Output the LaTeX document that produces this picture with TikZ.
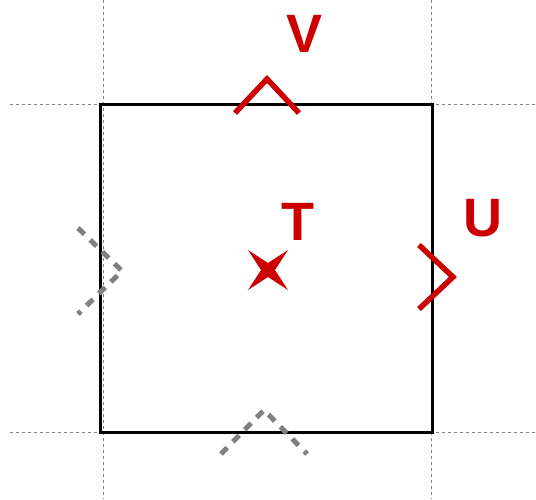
\documentclass[tikz,border=0pt]{standalone}
\usepackage{fontspec}
\setmainfont{Liberation Sans}
\usepackage{xcolor}
\usepackage{tikz}
\definecolor{markRed}{HTML}{CC0000}
\definecolor{guideGray}{HTML}{808080}

\begin{document}
\begin{tikzpicture}[x=1pt,y=-1pt,
  guide/.style={guideGray,line width=1pt,dash pattern=on 3pt off 3pt},
  chev/.style={markRed,line width=5.5pt,miter limit=4},
  ghost/.style={guideGray,line width=5pt,dash pattern=on 9pt off 8pt},
  lab/.style={markRed,font=\fontsize{54}{54}\selectfont\bfseries,inner sep=0pt}]
\useasboundingbox (0,0) rectangle (536,499);
% guide lines
\draw[guide] (10,104) -- (536,104);
\draw[guide] (10,432) -- (536,432);
\draw[guide] (103,0) -- (103,499);
\draw[guide] (431,0) -- (431,499);
% cell
\draw[line width=3pt] (100,104) rectangle (432,432);
% marker V
\coordinate (Vtip) at (267,79);
\draw[chev] (235,113) -- (Vtip) -- (299,113);
\node[lab] (V) at (305,34) {V};
% marker U
\coordinate (Utip) at (453,277);
\draw[chev] (419,245) -- (Utip) -- (419,309);
\node[lab] (U) at (483,218) {U};
% marker T
\coordinate (Tc) at (268,270);
\fill[markRed] (Tc) ++(-20,-20) -- ++(20,13) -- ++(20,-13) -- ++(-13,20)
  -- ++(13,20) -- ++(-20,-13) -- ++(-20,13) -- ++(13,-20) -- cycle;
\node[lab] (T) at (298,222) {T};
% ghost markers
\draw[ghost] (78,228) -- (122,271) -- (78,314);
\draw[ghost] (221,454) -- (264,410) -- (307,454);
\end{tikzpicture}
\end{document}
